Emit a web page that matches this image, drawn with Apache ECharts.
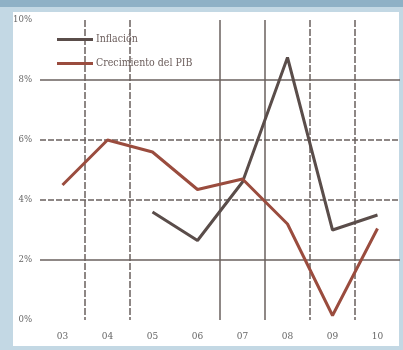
<!DOCTYPE html>
<html>
<head>
<meta charset="utf-8">
<script src="https://cdn.jsdelivr.net/npm/echarts@6/dist/echarts.min.js"></script>
<style>
  html, body { margin: 0; padding: 0; }
  body { width: 403px; height: 350px; background: #c3d8e4; position: relative; overflow: hidden; }
  #band { position: absolute; left: 0; top: 0; width: 403px; height: 7px; background: #8fb1c6; }
  #panel { position: absolute; left: 13px; top: 12px; width: 386px; height: 334px; background: #ffffff; }
  #chart { position: absolute; left: 0; top: 0; width: 403px; height: 350px; }
</style>
</head>
<body>
<div id="band"></div>
<div id="panel"></div>
<div id="chart"></div>
<script>
// Years (two-digit) and annual rates, in percent
const years = ['03', '04', '05', '06', '07', '08', '09', '10'];
const inflacion = [null, null, 3.6, 2.65, 4.6, 8.75, 3.0, 3.5];
const crecimientoPIB = [4.5, 6.0, 5.6, 4.35, 4.7, 3.2, 0.15, 3.05];
const yTicks = [0, 2, 4, 6, 8, 10];
const solidRules = [2, 8];
const dashedRules = [4, 6];

const FONT = '"DejaVu Serif Condensed", "Liberation Serif", serif';
const GRID_COLOR = '#6a605e';

const rules = [
  ...solidRules.map(v => ({ yAxis: v, lineStyle: { type: 'solid' } })),
  ...dashedRules.map(v => ({ yAxis: v, lineStyle: { type: [6, 2] } }))
];

const chart = echarts.init(document.getElementById('chart'), null, { renderer: 'canvas' });
chart.setOption({
  animation: false,
  backgroundColor: 'transparent',
  textStyle: { fontFamily: FONT },
  grid: { left: 40, right: 3, top: 20, bottom: 30 },
  legend: {
    orient: 'vertical',
    left: 52,
    top: 29,
    itemWidth: 36,
    itemHeight: 3,
    itemGap: 13,
    icon: 'rect',
    textStyle: { fontFamily: FONT, fontSize: 10.5, color: '#6a5c5a', padding: [0, 0, 0, -2] },
    data: ['Inflación', 'Crecimiento del PIB']
  },
  xAxis: [{
    type: 'category',
    data: years,
    boundaryGap: true,
    axisLine: { show: false },
    axisTick: { show: false },
    axisLabel: { fontFamily: FONT, fontSize: 10, color: '#666', margin: 11 },
    splitLine: {
      show: true,
      showMinLine: false,
      showMaxLine: false,
      interval: (i) => i >= 3 && i <= 5,
      lineStyle: { color: GRID_COLOR, width: 1.5, type: 'solid' }
    }
  }, {
    type: 'category',
    data: years,
    boundaryGap: true,
    position: 'bottom',
    axisLine: { show: false },
    axisTick: { show: false },
    axisLabel: { show: false },
    splitLine: {
      show: true,
      showMinLine: false,
      showMaxLine: false,
      interval: (i) => !(i >= 3 && i <= 5),
      lineStyle: { color: GRID_COLOR, width: 1.5, type: [7, 2] }
    }
  }],
  yAxis: {
    type: 'value',
    min: 0,
    max: 10,
    interval: 2,
    axisLine: { show: false },
    axisTick: { show: false },
    splitLine: { show: false },
    axisLabel: {
      fontFamily: FONT, fontSize: 9.5, color: '#666', margin: 8,
      formatter: (v) => yTicks.includes(v) ? v + '%' : ''
    }
  },
  series: [{
    name: 'Inflación',
    type: 'line',
    data: inflacion,
    symbol: 'none',
    z: 3,
    lineStyle: { color: '#5a4d4a', width: 3 },
    itemStyle: { color: '#5a4d4a' },
    markLine: {
      silent: true,
      symbol: 'none',
      label: { show: false },
      lineStyle: { color: GRID_COLOR, width: 1.5 },
      z: 1,
      data: rules
    }
  }, {
    name: 'Crecimiento del PIB',
    type: 'line',
    data: crecimientoPIB,
    symbol: 'none',
    z: 4,
    lineStyle: { color: '#9a4c3e', width: 3 },
    itemStyle: { color: '#9a4c3e' }
  }]
});
</script>
</body>
</html>
